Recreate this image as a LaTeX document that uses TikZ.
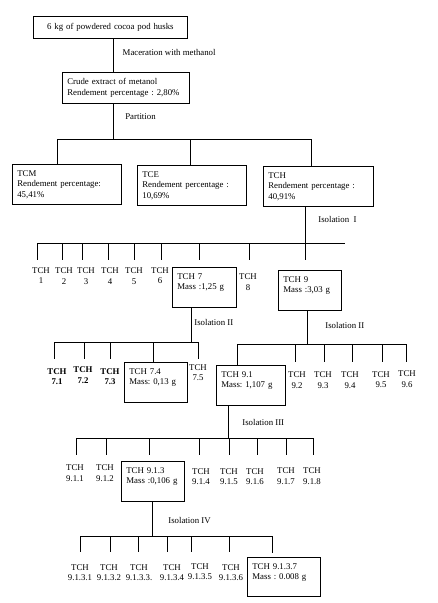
\documentclass[tikz,border=0pt]{standalone}
\usepackage{fontspec}
\setmainfont{Liberation Serif}
\usetikzlibrary{positioning, calc}

\begin{document}
\begin{tikzpicture}[x=1pt, y=-1pt, line width=0.7pt, font=\fontsize{8.8}{10.5}\selectfont]
	\tikzset{
		box/.style={draw, anchor=north west, align=left, inner xsep=5pt, inner ysep=6pt},
		smallbox/.style={box, text depth=22pt},
		leaf/.style={align=center, inner sep=1pt},
		boldleaf/.style={leaf, font=\fontsize{8.8}{10.5}\selectfont\bfseries},
		edgetext/.style={anchor=west, inner sep=0pt}
	}
	\useasboundingbox (0,0) rectangle (437,603);

	% extraction and partition
	\node[box, align=center, text width=144pt, minimum height=22pt] (husk) at (33,16) {6 kg of powdered cocoa pod husks};
	\node[box, text width=117pt] (crude) at (62,72) {Crude extract of metanol\\Rendement~percentage~:~2,80\%};
	\draw ([xshift=3pt]husk.south) -- node[edgetext, pos=.41, xshift=9pt] {Maceration with methanol} ([xshift=3pt]husk.south |- crude.north);

	\coordinate (pm) at (113,139);
	\coordinate (pl) at (57,139);
	\coordinate (pc) at (190,139);
	\coordinate (pr) at (311,139);
	\draw (pm |- crude.south) -- node[edgetext, pos=.38, xshift=12pt] {Partition} (pm);
	\draw (pl) -- (pr);
	\node[box, text width=99pt] (tcm) at (12,164) {TCM\\Rendement percentage:\\45,41\%};
	\node[box, text width=99pt] (tce) at (137,165) {TCE\\Rendement percentage :\\10,69\%};
	\node[box, text width=100pt] (tch) at (263,166) {TCH\\Rendement percentage :\\40,91\%};
	\draw (pl) -- (pl |- tcm.north);
	\draw (pc) -- (pc |- tce.north);
	\draw (pr) -- (pr |- tch.north);

	% isolation I
	\coordinate (i) at (305,243);
	\coordinate (il) at (37,243);
	\coordinate (ir) at (345,243);
	\draw (i |- tch.south) -- node[edgetext, pos=.35, xshift=13pt] {Isolation~~I} (i);
	\draw (il) -- (ir);
	\foreach \n/\x/\y/\d in {1/41/275.5/37, 2/64/276/62, 3/86/276/82, 4/110/276/108, 5/134/276/134, 6/160/275.5/161, 8/248/282/249} {
		\node[leaf] (f\n) at (\x,\y) {TCH\\\n};
		\coordinate (fa\n) at (\d,243);
		\coordinate (fe\n) at (\d,260);
		\draw (fa\n) -- (fe\n);
	}
	\node[smallbox, text width=54pt] (t7) at (172,267) {TCH 7\\Mass~:1,25~g};
	\coordinate (fa7) at (199,243);
	\coordinate (fe7) at (199,260);
	\draw (fa7) -- (fe7);
	\node[smallbox, text width=53pt] (t9) at (278,270) {TCH 9\\Mass~:3,03~g};
	\coordinate (fe9) at (305,260);
	\draw (i) -- (fe9);

	% isolation II of TCH 7
	\coordinate (j) at (191,342);
	\coordinate (jl) at (54,342);
	\coordinate (jr) at (198,342);
	\draw (j |- t7.south) -- node[edgetext, pos=.44, xshift=3pt] {Isolation II} (j);
	\draw (jl) -- (jr);
	\foreach \n/\x/\y/\d in {1/57/376.5/54, 2/83/375/84, 3/110/376.5/110} {
		\node[boldleaf] (g\n) at (\x,\y) {TCH\\7.\n};
		\coordinate (ga\n) at (\d,342);
		\coordinate (ge\n) at (\d,359);
		\draw (ga\n) -- (ge\n);
	}
	\node[leaf] (g5) at (198,372.5) {TCH\\7.5};
	\coordinate (ge5) at (198,359);
	\draw (jr) -- (ge5);
	\node[smallbox, text width=53pt] (t74) at (124,362) {TCH 7.4\\Mass:~0,13~g};
	\coordinate (ga4) at (153,342);
	\draw (ga4) -- (ga4 |- t74.north);

	% isolation II of TCH 9
	\coordinate (k) at (307,344);
	\coordinate (kl) at (237,344);
	\coordinate (kr) at (406,344);
	\draw (k |- t9.south) -- node[edgetext, pos=.44, xshift=18pt] {Isolation II} (k);
	\draw (kl) -- (kr);
	\foreach \n/\x/\y/\d in {2/297/380/295, 3/323/380/324, 4/350/380/352, 5/381/379.5/382, 6/407/379/406} {
		\node[leaf] (h\n) at (\x,\y) {TCH\\9.\n};
		\coordinate (ha\n) at (\d,344);
		\coordinate (he\n) at (\d,362);
		\draw (ha\n) -- (he\n);
	}
	\node[smallbox, text width=59pt] (t91) at (216,365) {TCH 9.1\\Mass:~1,107~g};
	\draw (kl) -- (kl |- t91.north);

	% isolation III
	\coordinate (m) at (228,438);
	\coordinate (ml) at (76,438);
	\coordinate (mr) at (313,438);
	\draw (m |- t91.south) -- node[edgetext, pos=.52, xshift=14pt] {Isolation III} (m);
	\draw (ml) -- (mr);
	\foreach \n/\x/\y/\d in {1/75/473/76, 2/105/473/106, 4/201/476.5/199, 5/229/476.5/229, 6/255/476.5/257, 7/286/476/286, 8/312/476/313} {
		\node[leaf] (u\n) at (\x,\y) {TCH\\9.1.\n};
		\coordinate (ua\n) at (\d,438);
		\coordinate (ue\n) at (\d,455);
		\draw (ua\n) -- (ue\n);
	}
	\node[smallbox, text width=53pt] (t913) at (121,461) {TCH 9.1.3\\Mass~:0,106~g};
	\coordinate (ua3) at (149,438);
	\coordinate (ue3) at (149,455);
	\draw (ua3) -- (ue3);

	% isolation IV
	\coordinate (n) at (152,536);
	\coordinate (nl) at (80,536);
	\coordinate (nr) at (272,536);
	\draw (n |- t913.south) -- node[edgetext, pos=.54, xshift=16pt] {Isolation IV} (n);
	\draw (nl) -- (nr);
	\foreach \n/\t/\x/\y/\d in {1/9.1.3.1/80/572.5/80, 2/9.1.3.2/109/572.5/110, 3/9.1.3.3./139/572.5/138, 4/9.1.3.4/172/572.5/167, 5/9.1.3.5/200/571.5/191, 6/9.1.3.6/231/572.5/229} {
		\node[leaf] (v\n) at (\x,\y) {TCH\\\t};
		\coordinate (va\n) at (\d,536);
		\coordinate (ve\n) at (\d,552);
		\draw (va\n) -- (ve\n);
	}
	\node[smallbox, text width=63pt, text depth=21pt] (t9137) at (247,557) {TCH 9.1.3.7\\Mass~:~0.008~g};
	\coordinate (ve7) at (272,553);
	\draw (nr) -- (ve7);
\end{tikzpicture}
\end{document}
